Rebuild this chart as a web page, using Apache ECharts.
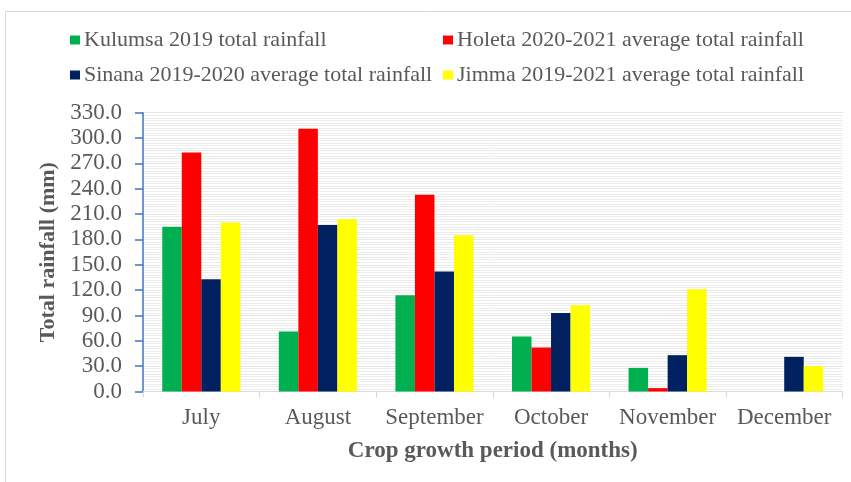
<!DOCTYPE html>
<html>
<head>
<meta charset="utf-8">
<script src="https://cdn.jsdelivr.net/npm/echarts@6/dist/echarts.min.js"></script>
<style>
    html, body { margin: 0; padding: 0; background: #fff; }
    #container { width: 851px; height: 482px; }
</style>
</head>
<body>
<div id="container"></div>
<script>
let months = ['July', 'August', 'September', 'October', 'November', 'December'];
let seriesNames = [
    'Kulumsa 2019 total rainfall',
    'Holeta 2020-2021 average total rainfall',
    'Sinana 2019-2020 average total rainfall',
    'Jimma 2019-2021 average total rainfall',
];
let kulumsa = [195, 71, 114, 65, 28, null];
let holeta = [283, 311, 233, 52, 4, null];
let sinana = [133, 197, 142, 93, 43, 41];
let jimma = [200, 204, 185, 102, 121, 30];
let colors = ['#00B050', '#FF0000', '#002060', '#FFFF00'];

let chart = echarts.init(document.getElementById('container'));
let font = 'Liberation Serif, Times New Roman, serif';
let grey = '#595959';

// one legend per item so the 2x2 layout lines up like the original
let legendSpots = [
    {left: 70, top: 29},
    {left: 443, top: 29},
    {left: 70, top: 64},
    {left: 443, top: 64},
];
let legends = seriesNames.map((name, i) => ({
    data: [name],
    left: legendSpots[i].left,
    top: legendSpots[i].top,
    padding: 0,
    icon: 'rect',
    itemWidth: 10,
    itemHeight: 9,
    itemGap: 4,
    textStyle: {
        fontFamily: font,
        fontSize: 22,
        lineHeight: 22,
        color: grey,
        padding: [0, 0, 0, -1],
    },
}));

let option = {
    animation: false,
    color: colors,
    legend: legends,
    graphic: [{
        type: 'rect',
        shape: {x: 5.5, y: 11.5, width: 900, height: 500},
        style: {fill: 'none', stroke: '#d9d9d9', lineWidth: 1},
        silent: true,
    }],
    grid: {
        left: 143,
        right: 8.5,
        top: 112.7,
        bottom: 90.5,
    },
    xAxis: {
        type: 'category',
        data: months,
        name: 'Crop growth period (months)',
        nameLocation: 'middle',
        nameGap: 48,
        nameTextStyle: {
            fontFamily: font,
            fontSize: 23,
            fontWeight: 'bold',
            color: grey,
        },
        axisLine: {lineStyle: {color: '#d9d9d9', width: 1}},
        axisTick: {
            show: true,
            length: 6,
            lineStyle: {color: '#d9d9d9'},
        },
        axisLabel: {
            interval: 0,
            margin: 15,
            fontFamily: font,
            fontSize: 23,
            color: grey,
        },
        splitLine: {show: false},
    },
    yAxis: {
        type: 'value',
        min: 0,
        max: 330,
        interval: 30,
        name: 'Total rainfall (mm)',
        nameLocation: 'middle',
        nameGap: 83,
        nameTextStyle: {
            fontFamily: font,
            fontSize: 22,
            fontWeight: 'bold',
            color: grey,
        },
        axisLine: {show: true, lineStyle: {color: '#4472C4', width: 1.5}},
        axisTick: {
            show: true,
            length: 8,
            lineStyle: {color: '#4472C4', width: 1.5},
        },
        axisLabel: {
            margin: 21,
            fontFamily: font,
            fontSize: 23,
            color: grey,
            formatter: value => value.toFixed(1),
        },
        splitLine: {show: true, lineStyle: {color: '#e8e8e8', width: 1}},
        minorTick: {show: false, splitNumber: 10},
        minorSplitLine: {show: true, lineStyle: {color: '#ececec', width: 1}},
    },
    series: [kulumsa, holeta, sinana, jimma].map((values, i) => ({
        name: seriesNames[i],
        type: 'bar',
        barGap: 0,
        barCategoryGap: '33%',
        itemStyle: {color: colors[i]},
        data: values,
    })),
};
chart.setOption(option);
</script>
</body>
</html>
